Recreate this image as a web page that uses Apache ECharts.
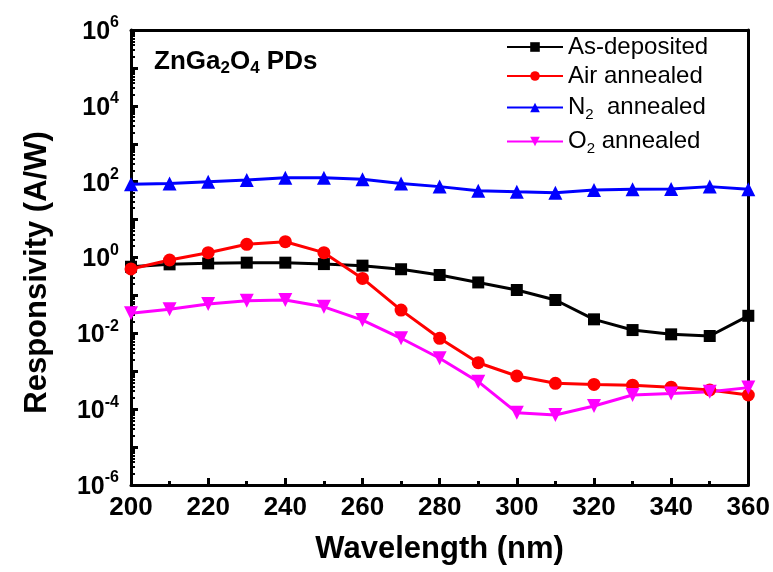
<!DOCTYPE html>
<html>
<head>
<meta charset="utf-8">
<script src="https://cdn.jsdelivr.net/npm/echarts@6/dist/echarts.min.js"></script>
<style>html,body{margin:0;padding:0;background:#fff;}#c{width:773px;height:572px;}</style>
</head>
<body>
<div id="c"></div>
<script>
var wavelengths = [200, 210, 220, 230, 240, 250, 260, 270, 280, 290, 300, 310, 320, 330, 340, 350, 360];
var asDeposited = [0.57, 0.66, 0.70, 0.73, 0.73, 0.67, 0.61, 0.49, 0.345, 0.22, 0.139, 0.0757, 0.0234, 0.0122, 0.0094, 0.0085, 0.029];
var airAnnealed = [0.50, 0.86, 1.34, 2.23, 2.61, 1.34, 0.28, 0.041, 0.0074, 0.00168, 7.5e-4, 4.8e-4, 4.5e-4, 4.3e-4, 3.8e-4, 3.2e-4, 2.36e-4];
var n2Annealed = [85, 90, 100, 110, 127, 127, 115, 90, 74, 58, 54, 51, 60, 63, 64, 74, 63];
var o2Annealed = [0.034, 0.043, 0.059, 0.072, 0.076, 0.050, 0.0224, 0.0074, 0.0022, 5.3e-4, 8.1e-5, 7.0e-5, 1.21e-4, 2.36e-4, 2.6e-4, 2.9e-4, 3.7e-4];
var seriesNames = ['As-deposited', 'Air annealed', 'N2 annealed', 'O2 annealed'];

function pairs(ys) { return wavelengths.map(function (x, i) { return [x, ys[i]]; }); }

var FONT = 'Liberation Sans, Arial, sans-serif';
var chart = echarts.init(document.getElementById('c'), null, { renderer: 'canvas' });

function mkSeries(name, data, color, symbol, size, rot) {
  return {
    name: name, type: 'line', data: pairs(data),
    symbol: symbol, symbolSize: size, symbolRotate: rot || 0,
    lineStyle: { color: color, width: 3 },
    itemStyle: { color: color },
    emphasis: { disabled: true },
    clip: true, z: 3
  };
}

var option = {
  animation: false,
  backgroundColor: '#fff',
  grid: { left: 131, right: 23, top: 30, bottom: 87, containLabel: false },
  title: {
    text: '{b|ZnGa}{s|2}{b|O}{s|4}{b| PDs}',
    left: 149, top: 42,
    textStyle: {
      rich: {
        b: { fontFamily: FONT, fontWeight: 'bold', fontSize: 26, color: '#000' },
        s: { fontFamily: FONT, fontWeight: 'bold', fontSize: 17, color: '#000', padding: [13, 0, 0, 0] }
      }
    }
  },
  legend: {
    orient: 'vertical', left: 501, top: 30,
    itemWidth: 56, itemHeight: 12, itemGap: 5,
    data: seriesNames,
    formatter: function (name) {
      if (name === 'N2 annealed') return '{n|N}{sub|2}{n|  annealed}';
      if (name === 'O2 annealed') return '{n|O}{sub|2}{n| annealed}';
      return '{n|' + name + '}';
    },
    textStyle: {
      rich: {
        n: { fontFamily: FONT, fontSize: 24, color: '#000', lineHeight: 27 },
        sub: { fontFamily: FONT, fontSize: 15, color: '#000', padding: [14, 0, 0, 0], lineHeight: 27 }
      }
    }
  },
  xAxis: [{
    type: 'value', min: 200, max: 360, interval: 20,
    name: 'Wavelength (nm)', nameLocation: 'middle', nameGap: 49,
    nameTextStyle: { fontFamily: FONT, fontWeight: 'bold', fontSize: 31, color: '#000' },
    axisLine: { lineStyle: { color: '#000', width: 3 } },
    axisTick: { inside: true, length: 7, lineStyle: { width: 3, color: '#000' } },
    minorTick: { show: true, splitNumber: 2, length: 4, lineStyle: { width: 3, color: '#000' } },
    axisLabel: { fontFamily: FONT, fontWeight: 'bold', fontSize: 26, color: '#000', margin: 10 },
    splitLine: { show: false }
  }, {
    type: 'value', min: 200, max: 360, position: 'top',
    axisLine: { show: true, lineStyle: { color: '#000', width: 3 } },
    axisTick: { show: false }, axisLabel: { show: false }, splitLine: { show: false }
  }],
  yAxis: [{
    type: 'log', logBase: 10, min: 1e-6, max: 1e6, interval: 1,
    name: 'Responsivity (A/W)', nameLocation: 'middle', nameGap: 78,
    nameTextStyle: { fontFamily: FONT, fontWeight: 'bold', fontSize: 31, color: '#000', padding: [0, 30, 0, 0] },
    axisLine: { show: true, lineStyle: { color: '#000', width: 3 } },
    axisTick: { inside: true, length: 7, lineStyle: { width: 3, color: '#000' } },
    minorTick: { show: true, splitNumber: 9, length: 4, lineStyle: { width: 2, color: '#000' } },
    axisLabel: {
      margin: 12,
      formatter: function (v) {
        var e = Math.round(Math.log(v) / Math.LN10);
        if (e % 2 !== 0) return '';
        return '{b|10}{s|' + e + '}';
      },
      rich: {
        b: { fontFamily: FONT, fontWeight: 'bold', fontSize: 25, color: '#000', padding: [4, 0, 0, 0] },
        s: { fontFamily: FONT, fontWeight: 'bold', fontSize: 16, color: '#000', padding: [0, 0, 14, 0] }
      }
    },
    splitLine: { show: false }
  }, {
    type: 'log', logBase: 10, min: 1e-6, max: 1e6, position: 'right',
    axisLine: { show: true, lineStyle: { color: '#000', width: 3 } },
    axisTick: { show: false }, axisLabel: { show: false }, splitLine: { show: false }
  }],
  series: [
    mkSeries('As-deposited', asDeposited, '#000000', 'rect', 12),
    mkSeries('Air annealed', airAnnealed, '#ff0000', 'circle', 13),
    mkSeries('N2 annealed', n2Annealed, '#0000ff', 'triangle', 14),
    mkSeries('O2 annealed', o2Annealed, '#ff00ff', 'triangle', 14, 180)
  ]
};
chart.setOption(option);
</script>
</body>
</html>
